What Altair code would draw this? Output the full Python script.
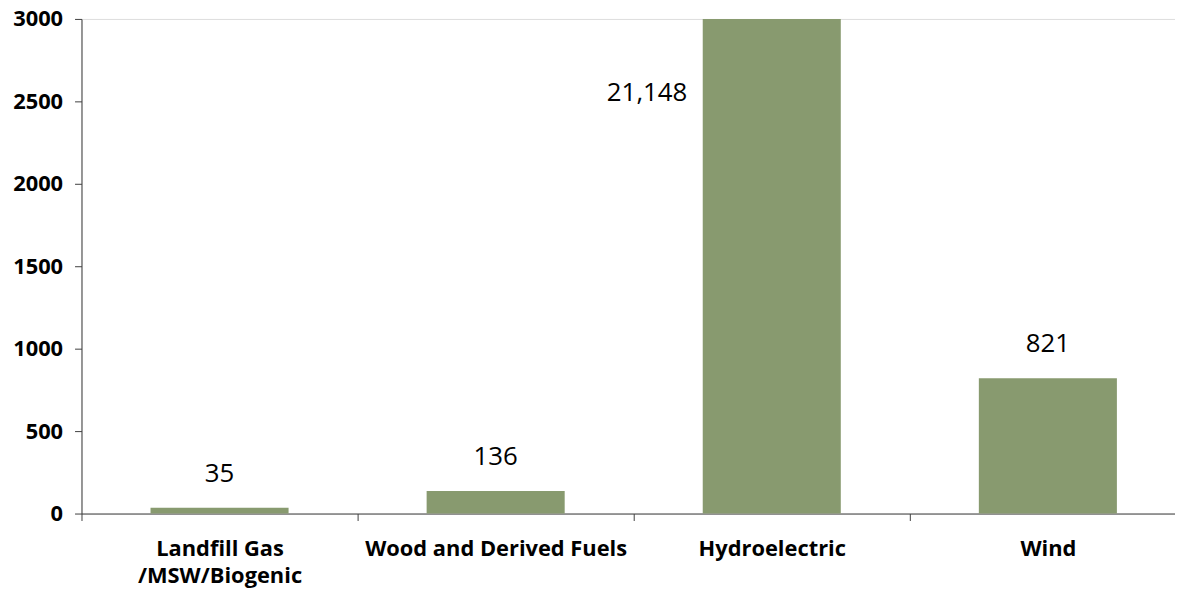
import altair as alt
import pandas as pd

categories = ["Landfill Gas /MSW/Biogenic", "Wood and Derived Fuels", "Hydroelectric", "Wind"]
values = [35, 136, 21148, 821]
labels = ["35", "136", "21,148", "821"]

df = pd.DataFrame({"cat": categories, "val": values, "lab": labels})

FONT = "Open Sans"
BAR = "#889A6F"
AX = "#404040"

x = alt.X(
    "cat:N",
    sort=categories,
    title=None,
    scale=alt.Scale(paddingInner=0, paddingOuter=0),
    axis=alt.Axis(
        labelAngle=0,
        tickBand="extent",
        labelFont=FONT,
        labelFontWeight="bold",
        labelFontSize=22,
        labelColor="black",
        labelPadding=18,
        labelLineHeight=27,
        labelBaseline="top",
        labelLimit=600,
        labelExpr="datum.label == 'Landfill Gas /MSW/Biogenic' ? ['Landfill Gas', '/MSW/Biogenic'] : datum.label",
        domainColor=AX,
        tickColor=AX,
        tickSize=7,
        grid=False,
    ),
)

yscale = alt.Scale(domain=[0, 3000], clamp=True, nice=False)
y = alt.Y(
    "val:Q",
    title=None,
    scale=yscale,
    axis=alt.Axis(
        values=[0, 500, 1000, 1500, 2000, 2500, 3000],
        format="d",
        labelFont=FONT,
        labelFontWeight="bold",
        labelFontSize=22,
        labelColor="black",
        labelPadding=12,
        domainColor=AX,
        tickColor=AX,
        tickSize=7,
        grid=False,
    ),
)

base = alt.Chart(df)

bars = base.mark_bar(color=BAR, width={"band": 0.5}).encode(x=x, y=y)

small = base.transform_filter("datum.val < 3000").mark_text(
    font=FONT, fontSize=26, dy=-26, baseline="alphabetic", align="center", color="black"
).encode(x=x, y=y, text="lab:N")

big = base.transform_filter("datum.val >= 3000").mark_text(
    font=FONT, fontSize=26, dy=83, dx=-85, baseline="alphabetic", align="right", color="black"
).encode(x=x, y=y, text="lab:N")

chart = (
    alt.layer(bars, small, big)
    .properties(
        width=1112,
        height=498,
        autosize=alt.AutoSizeParams(type="none"),
        padding={"left": 74, "top": 9, "right": -11, "bottom": 78},
    )
    .configure_view(stroke=None)
    .configure(background="white")
)

chart.save("out.html", embed_options={"renderer": "svg", "actions": False})
